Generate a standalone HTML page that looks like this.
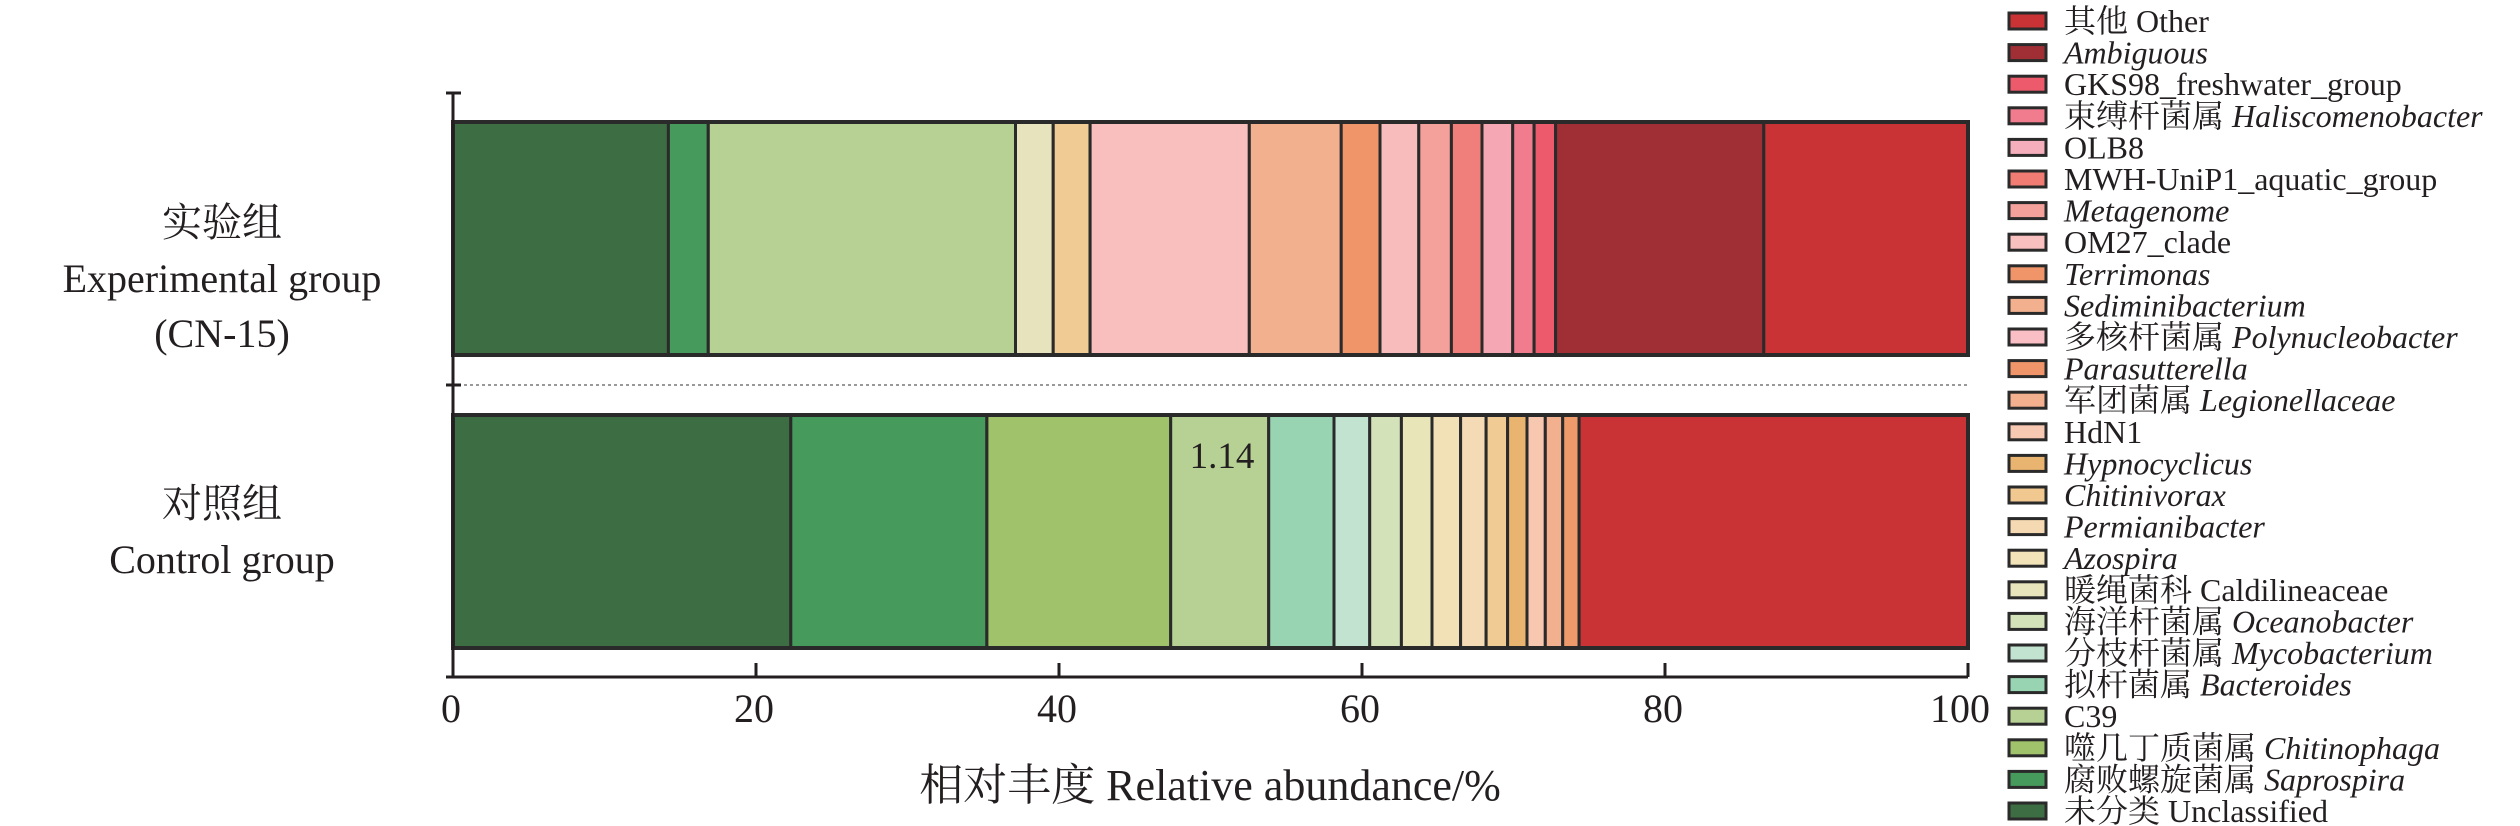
<!DOCTYPE html>
<html><head><meta charset="utf-8"><style>
html,body{margin:0;padding:0;background:#fff;}
svg{display:block;}
text{font-family:"Liberation Serif","Noto Serif CJK SC",serif;fill:#231f20;}
.it{font-style:italic;}
</style></head><body>
<svg width="2520" height="826" viewBox="0 0 2520 826" xmlns="http://www.w3.org/2000/svg">
<g id="bars" stroke="#2a2a2a" stroke-width="3"></g>
<line x1="458" y1="385" x2="1968" y2="385" stroke="#999" stroke-width="2" stroke-dasharray="3,3"/>
<g stroke="#231f20" stroke-width="3">
<line x1="453" y1="93" x2="453" y2="677"/>
<line x1="446" y1="93" x2="461" y2="93"/>
<line x1="446" y1="385" x2="461" y2="385"/>
<line x1="446" y1="677" x2="1968" y2="677"/>
<line x1="756" y1="663" x2="756" y2="677"/>
<line x1="1059" y1="663" x2="1059" y2="677"/>
<line x1="1362" y1="663" x2="1362" y2="677"/>
<line x1="1665" y1="663" x2="1665" y2="677"/>
<line x1="1968" y1="663" x2="1968" y2="677"/>
</g>
<g font-size="40" text-anchor="middle">
<text x="451" y="722">0</text><text x="754" y="722">20</text><text x="1057" y="722">40</text><text x="1360" y="722">60</text><text x="1663" y="722">80</text><text x="1960" y="722">100</text>
</g>
<text x="1210" y="800" font-size="44" text-anchor="middle">相对丰度 Relative abundance/%</text>
<text x="1222" y="468" font-size="37" text-anchor="middle">1.14</text>
<g font-size="40" text-anchor="middle">
<text x="222" y="236">实验组</text>
<text x="222" y="292">Experimental group</text>
<text x="222" y="347">(CN-15)</text>
<text x="222" y="517">对照组</text>
<text x="222" y="573">Control group</text>
</g>
<g id="legend" font-size="32"></g>
</svg>
<script>
var X0=453,W=1515;
function bar(y,h,b,c){var g=document.getElementById('bars');var p=[0].concat(b).concat([100]);
var s='';for(var i=0;i<c.length;i++){var x=X0+p[i]*W/100,w=(p[i+1]-p[i])*W/100;
s+='<rect x="'+x.toFixed(1)+'" y="'+y+'" width="'+w.toFixed(1)+'" height="'+h+'" fill="'+c[i]+'"/>';}
s+='<rect x="'+X0+'" y="'+y+'" width="'+W+'" height="'+h+'" fill="none" stroke-width="4"/>';
g.innerHTML+=s;}
bar(122,233,[14.22,16.85,37.13,39.62,42.05,52.56,58.63,61.19,63.75,65.90,67.92,69.95,71.36,72.78,86.52],
['#3d6e43','#459a5c','#b7d194','#e7e4bd','#f0cb93','#f9bfbf','#f2b08e','#ef9569','#f9bcbc','#f4a19c','#f07f7b','#f5a8b4','#f07c8e','#ec5a6b','#a02e35','#c93335']);
bar(415,233,[22.30,35.24,47.37,53.84,58.15,60.51,62.60,64.62,66.51,68.19,69.61,70.89,72.10,73.25,74.33],
['#3d6e43','#459a5c','#9fc26a','#b7d194','#98d3b2','#c3e3d1','#d3e2b8','#e8e5b9','#f2e1b6','#f5dbb5','#f0cb93','#e9b46f','#f7c7b0','#f2b08e','#ef9a6b','#c93335']);
var L=[
['#c93335','其他 Other',0],['#a02e35','Ambiguous',1],['#ec5a6b','GKS98_freshwater_group',0],
['#f07c8e','束缚杆菌属 |Haliscomenobacter',2],['#f5aebb','OLB8',0],['#f07c74','MWH-UniP1_aquatic_group',0],
['#f4a19c','Metagenome',1],['#f9c0c0','OM27_clade',0],['#ef9569','Terrimonas',1],['#f2b08e','Sediminibacterium',1],
['#f9bfc4','多核杆菌属 |Polynucleobacter',2],['#ef9569','Parasutterella',1],['#f2b08e','军团菌属 |Legionellaceae',2],
['#f7c8b2','HdN1',0],['#e9b46f','Hypnocyclicus',1],['#f0c890','Chitinivorax',1],['#f5d9b2','Permianibacter',1],
['#f2e3b8','Azospira',1],['#e8e5bd','暖绳菌科 Caldilineaceae',0],['#d3e2b8','海洋杆菌属 |Oceanobacter',2],
['#c3e3d1','分枝杆菌属 |Mycobacterium',2],['#98d3b2','拟杆菌属 |Bacteroides',2],['#b7d194','C39',0],
['#9fc26a','噬几丁质菌属 |Chitinophaga',2],['#459a5c','腐败螺旋菌属 |Saprospira',2],['#3d6e43','未分类 Unclassified',0]];
var s='';for(var i=0;i<L.length;i++){var cy=21+i*31.6;
s+='<rect x="2009" y="'+(cy-8).toFixed(1)+'" width="37" height="16" fill="'+L[i][0]+'" stroke="#2a2a2a" stroke-width="3"/>';
var t=L[i][1],ty=(cy+11).toFixed(1);
if(L[i][2]==0)s+='<text x="2064" y="'+ty+'">'+t+'</text>';
else if(L[i][2]==1)s+='<text x="2064" y="'+ty+'" class="it">'+t+'</text>';
else{var pp=t.split('|');s+='<text x="2064" y="'+ty+'">'+pp[0]+'<tspan class="it">'+pp[1]+'</tspan></text>';}}
document.getElementById('legend').innerHTML=s;
</script>
</body></html>
